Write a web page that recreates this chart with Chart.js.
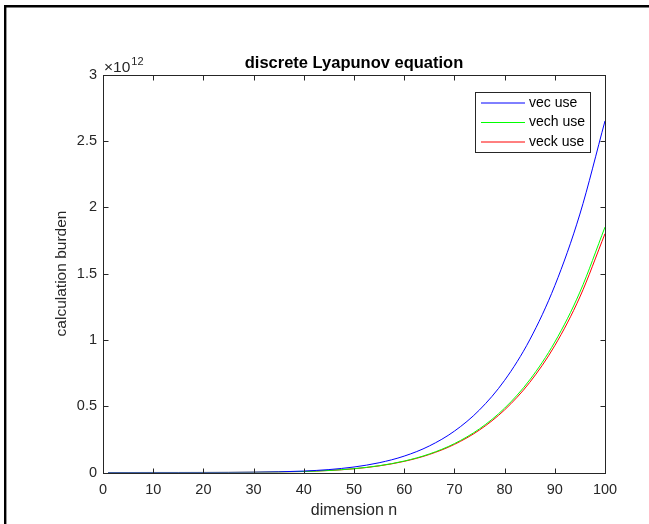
<!DOCTYPE html>
<html>
<head>
<meta charset="utf-8">
<script src="https://cdn.jsdelivr.net/npm/chart.js"></script>
<style>
  html, body { margin: 0; padding: 0; background: #fff; }
  #wrap { width: 649px; height: 524px; position: relative; }
</style>
</head>
<body>
<div id="wrap"><canvas id="lyapChart" width="649" height="524"></canvas></div>
<script>
  // dimension n and calculation burden (units of 1e12)
  var dims = [1, 5, 10, 15, 20, 25, 30, 35, 40, 45, 50, 55, 60, 65, 70, 75, 80, 85, 90, 95, 100];
  var vecUse  = [0, 0, 0.000003, 0.00003, 0.00017, 0.00065, 0.0019, 0.0049, 0.0109, 0.022, 0.0414, 0.0734, 0.1236, 0.1999, 0.3118, 0.4717, 0.6947, 0.9994, 1.4083, 1.948, 2.65];
  var vechUse = [0, 0, 0.000002, 0.00002, 0.00012, 0.00045, 0.00135, 0.0034, 0.0076, 0.0154, 0.0289, 0.0512, 0.0863, 0.1395, 0.2177, 0.3293, 0.485, 0.6977, 0.9832, 1.3599, 1.85];
  var veckUse = [0, 0, 0.000002, 0.00002, 0.00012, 0.00044, 0.0013, 0.0033, 0.0074, 0.015, 0.0281, 0.0498, 0.084, 0.1358, 0.2118, 0.3204, 0.4719, 0.6789, 0.9566, 1.3232, 1.80];
  var xTicks = [0, 10, 20, 30, 40, 50, 60, 70, 80, 90, 100];
  var yTicks = [0, 0.5, 1, 1.5, 2, 2.5, 3];

  var axisColor = '#262626';
  var fontName = '"Liberation Sans", Arial, sans-serif';

  function toPoints(vals) {
    return dims.map(function (n, i) { return { x: n, y: vals[i] }; });
  }

  // MATLAB-like figure: frame, box, inward ticks, title, exponent, legend
  var matlabLook = {
    id: 'matlabLook',
    beforeDraw: function (chart) {
      var c = chart.ctx;
      c.save();
      c.fillStyle = '#fff';
      c.fillRect(0, 0, chart.width, chart.height);
      c.strokeStyle = '#000';
      c.lineWidth = 2.4;
      c.beginPath();
      c.moveTo(5.2, chart.height);
      c.lineTo(5.2, 6.2);
      c.lineTo(chart.width, 6.2);
      c.stroke();
      c.restore();
    },
    afterDraw: function (chart) {
      var c = chart.ctx;
      var a = chart.chartArea;
      var xs = chart.scales.x, ys = chart.scales.y;
      var L = Math.round(a.left) + 0.5, R = Math.round(a.right) + 0.5;
      var T = Math.round(a.top) + 0.5, B = Math.round(a.bottom) + 0.5;
      c.save();
      c.strokeStyle = axisColor;
      c.lineWidth = 1;
      c.strokeRect(L, T, R - L, B - T);
      c.beginPath();
      xTicks.forEach(function (v) {
        var px = Math.round(xs.getPixelForValue(v)) + 0.5;
        c.moveTo(px, B); c.lineTo(px, B - 5);
        c.moveTo(px, T); c.lineTo(px, T + 5);
      });
      yTicks.forEach(function (v) {
        var py = Math.round(ys.getPixelForValue(v)) + 0.5;
        c.moveTo(L, py); c.lineTo(L + 5, py);
        c.moveTo(R, py); c.lineTo(R - 5, py);
      });
      c.stroke();

      // title
      c.fillStyle = '#000';
      c.font = 'bold 16.5px ' + fontName;
      c.textAlign = 'center';
      c.textBaseline = 'middle';
      c.fillText('discrete Lyapunov equation', (a.left + a.right) / 2, 63);

      // exponent
      c.fillStyle = axisColor;
      c.textAlign = 'left';
      c.textBaseline = 'alphabetic';
      c.font = '15.5px ' + fontName;
      c.fillText('\u00d710', 104, 72);
      var w = c.measureText('\u00d710').width;
      c.font = '11px ' + fontName;
      c.fillText('12', 104 + w + 1, 65);

      // legend
      var lx = 475.5, ly = 92.5, lw = 115, lh = 60;
      c.fillStyle = '#fff';
      c.fillRect(lx, ly, lw, lh);
      c.strokeStyle = axisColor;
      c.lineWidth = 1;
      c.strokeRect(lx, ly, lw, lh);
      c.font = '14px ' + fontName;
      c.textBaseline = 'middle';
      chart.data.datasets.forEach(function (ds, i) {
        var yy = 103 + i * 19.5;
        c.strokeStyle = ds.borderColor;
        c.beginPath();
        c.moveTo(481, yy); c.lineTo(525, yy);
        c.stroke();
        c.fillStyle = '#000';
        c.fillText(ds.label, 529, yy);
      });
      c.restore();
    }
  };

  var ctx = document.getElementById('lyapChart').getContext('2d');
  var lyapChart = new Chart(ctx, {
    type: 'line',
    data: {
      datasets: [
        { label: 'vec use', data: toPoints(vecUse), borderColor: '#0000ff', borderWidth: 1, pointRadius: 0, cubicInterpolationMode: 'monotone', fill: false },
        { label: 'vech use', data: toPoints(vechUse), borderColor: '#00ff00', borderWidth: 1, pointRadius: 0, cubicInterpolationMode: 'monotone', fill: false },
        { label: 'veck use', data: toPoints(veckUse), borderColor: '#ff0000', borderWidth: 1, pointRadius: 0, cubicInterpolationMode: 'monotone', fill: false }
      ]
    },
    options: {
      responsive: false,
      animation: false,
      layout: { padding: { left: 0, right: 44, top: 74.5, bottom: 0 } },
      plugins: {
        legend: { display: false },
        title: { display: false },
        tooltip: { enabled: false }
      },
      scales: {
        x: {
          type: 'linear',
          min: 0, max: 100,
          afterFit: function (s) { s.height = 51.5; },
          afterBuildTicks: function (s) { s.ticks = xTicks.map(function (v) { return { value: v }; }); },
          grid: { display: false, drawTicks: false },
          border: { display: false },
          ticks: { color: axisColor, font: { family: fontName, size: 14.5 }, padding: 9, maxRotation: 0,
                   callback: function (v) { return String(v); } },
          title: { display: true, text: 'dimension n', color: axisColor, font: { family: fontName, size: 16 }, padding: { top: 0, bottom: 4 } }
        },
        y: {
          type: 'linear',
          min: 0, max: 3,
          afterFit: function (s) { s.width = 103; },
          afterBuildTicks: function (s) { s.ticks = yTicks.map(function (v) { return { value: v }; }); },
          grid: { display: false, drawTicks: false },
          border: { display: false },
          ticks: { color: axisColor, font: { family: fontName, size: 14.5 }, padding: 6,
                   callback: function (v) { return String(v); } },
          title: { display: true, text: 'calculation burden', color: axisColor, font: { family: fontName, size: 15.5 }, padding: { top: 52, bottom: 0 } }
        }
      }
    },
    plugins: [matlabLook]
  });
</script>
</body>
</html>
